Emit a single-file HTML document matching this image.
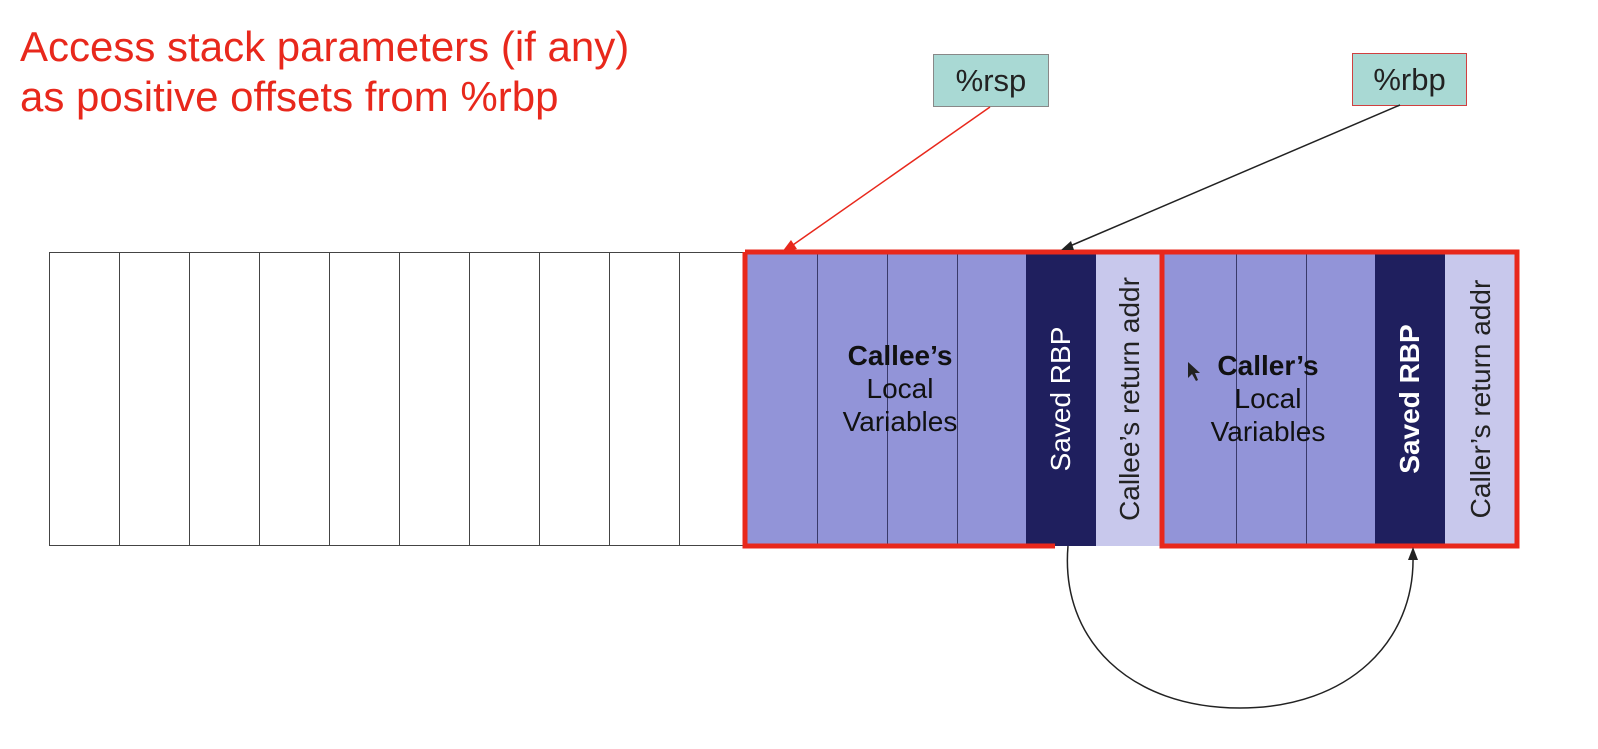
<!DOCTYPE html>
<html><head><style>
body{margin:0;width:1598px;height:749px;background:#fff;overflow:hidden;position:relative;font-family:"Liberation Sans",Arial,sans-serif}
.t{position:absolute;left:20px;top:22px;color:#e8281c;font-size:42px;line-height:50px}
.c{position:absolute;top:252px;height:294px;box-sizing:border-box}
.w{border:1px solid #444;background:#fff}
.m{background:#9294d8;border-left:1px solid #3a3a6a}
.d{background:#1f1f5e}
.l{background:#c8c8ec}
.v{position:absolute;left:50%;top:50%;transform:translate(-50%,-50%) rotate(-90deg);white-space:nowrap;font-size:28px}
.lab{position:absolute;text-align:center;font-size:28px;line-height:33px;color:#111}
.box{position:absolute;background:#a9d9d4;font-size:31px;text-align:center;line-height:52px;box-sizing:border-box;color:#222}
</style></head><body>
<div class="t">Access stack parameters (if any)<br>as positive offsets from %rbp</div>
<div class="box" style="left:933px;top:54px;width:116px;height:53px;border:1px solid #888">%rsp</div>
<div class="box" style="left:1352px;top:53px;width:115px;height:53px;border:1px solid #d04040">%rbp</div>

<div class="c w" style="left:49px;width:71px"></div>
<div class="c w" style="left:119px;width:71px"></div>
<div class="c w" style="left:189px;width:71px"></div>
<div class="c w" style="left:259px;width:71px"></div>
<div class="c w" style="left:329px;width:71px"></div>
<div class="c w" style="left:399px;width:71px"></div>
<div class="c w" style="left:469px;width:71px"></div>
<div class="c w" style="left:539px;width:71px"></div>
<div class="c w" style="left:609px;width:71px"></div>
<div class="c w" style="left:679px;width:71px"></div>

<div class="c m" style="left:746px;width:71px"></div>
<div class="c m" style="left:817px;width:70px"></div>
<div class="c m" style="left:887px;width:70px"></div>
<div class="c m" style="left:957px;width:69px"></div>
<div class="c d" style="left:1026px;width:70px"><div class="v" style="color:#fff">Saved RBP</div></div>
<div class="c l" style="left:1096px;width:68px"><div class="v" style="color:#222">Callee’s return addr</div></div>
<div class="c m" style="left:1164px;width:72px;border-left:none"></div>
<div class="c m" style="left:1236px;width:70px"></div>
<div class="c m" style="left:1306px;width:69px"></div>
<div class="c d" style="left:1375px;width:70px"><div class="v" style="color:#fff;font-weight:bold">Saved RBP</div></div>
<div class="c l" style="left:1445px;width:72px"><div class="v" style="color:#222">Caller’s return addr</div></div>

<div class="lab" style="left:800px;top:339px;width:200px"><b>Callee’s</b><br>Local<br>Variables</div>
<div class="lab" style="left:1168px;top:349px;width:200px"><b>Caller’s</b><br>Local<br>Variables</div>

<svg style="position:absolute;left:0;top:0" width="1598" height="749">
<g fill="none" stroke="#e8281c" stroke-width="5">
<path d="M745 252 H1517 V546 H1162 V252"/>
<path d="M745 252 V546 H1055"/>
</g>
<line x1="990" y1="107" x2="790" y2="247" stroke="#e8281c" stroke-width="1.5"/>
<polygon points="782,252 791,240 797,249" fill="#e8281c"/>
<line x1="1400" y1="105" x2="1070" y2="246" stroke="#222" stroke-width="1.5"/>
<polygon points="1061,250 1071,241 1074,250" fill="#222"/>
<path d="M1068 546 C1060 640 1130 708 1240 708 C1350 708 1415 640 1413 556" fill="none" stroke="#222" stroke-width="1.5"/>
<polygon points="1413,547 1408,560 1418,560" fill="#222"/>
<polygon points="1188,362 1188,378 1192,374 1196,381 1198,380 1195,373 1200,373" fill="#222"/>
</svg>
</body></html>
